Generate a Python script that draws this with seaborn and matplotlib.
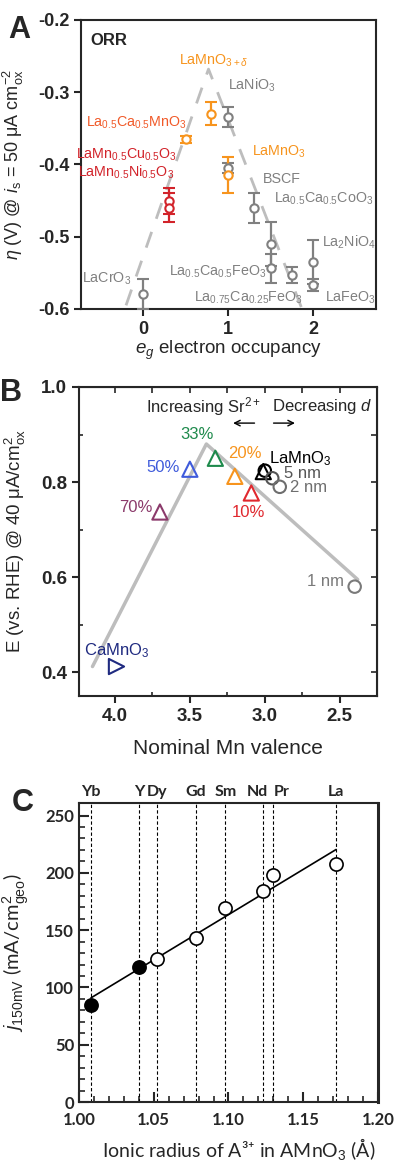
import numpy as np
import matplotlib
matplotlib.use("Agg")
import matplotlib.pyplot as plt
import seaborn as sns

# ---------------- Panel A: ORR overpotential vs e_g occupancy
gray_eg = [0.0, 1.0, 1.0, 1.3, 1.5, 1.5, 1.75, 2.0, 2.0]
gray_eta = [-0.579, -0.334, -0.405, -0.460, -0.510, -0.544, -0.553, -0.535, -0.567]
gray_err = [0.021, 0.014, 0.007, 0.021, 0.031, 0.020, 0.011, 0.030, 0.008]
orange_eg = [0.5, 0.8, 1.0]
orange_eta = [-0.365, -0.330, -0.415]
orange_err = [0.005, 0.016, 0.025]
red_eg = [0.3, 0.3]
red_eta = [-0.450, -0.460]
red_err = [0.018, 0.020]
volcano_a_x = [-0.2, 0.77, 1.87]
volcano_a_y = [-0.595, -0.268, -0.600]

# ---------------- Panel B: E vs nominal Mn valence
sr_labels = ["70%", "50%", "33%", "20%", "10%", ""]
sr_valence = [3.70, 3.50, 3.33, 3.20, 3.09, 3.01]
sr_E = [0.737, 0.827, 0.850, 0.812, 0.777, 0.822]
sr_colors = ["#8B3A6B", "#3F5BDB", "#1E8A4C", "#F7941D", "#E0282E", "black"]
camno3_valence = [3.99]
camno3_E = [0.412]
film_labels = ["LaMnO$_3$", "5 nm", "2 nm", "1 nm"]
film_valence = [3.00, 2.95, 2.90, 2.40]
film_E = [0.824, 0.808, 0.790, 0.580]
film_colors = ["black", "#555555", "#6E6E6E", "#7A7A7A"]
volcano_b_x = [4.15, 3.39, 2.38]
volcano_b_y = [0.412, 0.880, 0.595]

# ---------------- Panel C: j150mV vs ionic radius
elements = ["Yb", "Y", "Dy", "Gd", "Sm", "Nd", "Pr", "La"]
radius = [1.008, 1.040, 1.052, 1.078, 1.098, 1.123, 1.130, 1.172]
j150 = [85, 118, 125, 143, 169, 184, 198, 208]
filled = [True, True, False, False, False, False, False, False]

sns.set_style("ticks")
plt.rcParams['font.family'] = ['Liberation Sans', 'DejaVu Sans']
plt.rcParams['mathtext.fontset'] = 'custom'
plt.rcParams['mathtext.rm'] = 'Liberation Sans'
plt.rcParams['mathtext.it'] = 'Liberation Sans:italic'
plt.rcParams['mathtext.bf'] = 'Liberation Sans:bold'
plt.rcParams['axes.unicode_minus'] = False

GRAY = "#808080"
ORANGE = "#F7941D"
RED = "#D2232A"

fig = plt.figure(figsize=(3.97, 11.61), dpi=100)

# ======================= A
ax = fig.add_axes([0.204, 0.7339, 0.743, 0.2489])
sns.lineplot(x=volcano_a_x, y=volcano_a_y, ax=ax, color="#BDBDBD", lw=2,
             sort=False, estimator=None)
ax.lines[-1].set_dashes((6, 5))
for xs, ys, es, c in [(gray_eg, gray_eta, gray_err, GRAY),
                      (orange_eg, orange_eta, orange_err, ORANGE),
                      (red_eg, red_eta, red_err, RED)]:
    ax.errorbar(xs, ys, yerr=es, fmt='o', ms=6, mfc='white', mec=c, mew=1.5,
                ecolor=c, elinewidth=1.6, capsize=4, capthick=1.6, zorder=3)
ax.set_xlim(-0.73, 2.74)
ax.set_ylim(-0.6, -0.2)
ax.set_xticks([0, 1, 2])
ax.set_yticks([-0.2, -0.3, -0.4, -0.5, -0.6])
ax.set_yticklabels(["-0.2", "-0.3", "-0.4", "-0.5", "-0.6"])
ax.tick_params(direction='out', length=5, width=1.5, labelsize=13)
for lab in ax.get_xticklabels() + ax.get_yticklabels():
    lab.set_fontweight('bold')
for sp in ax.spines.values():
    sp.set_visible(True)
    sp.set_linewidth(1.5)
ax.set_xlabel("$e_g$ electron occupancy", fontsize=13.5)
ax.set_ylabel(r"$\eta$ (V) @ $i_\mathrm{s}$ = 50 μA cm$_\mathrm{ox}^{-2}$", fontsize=13)
ax.yaxis.set_label_coords(-0.185, 0.5)
ax.xaxis.set_label_coords(0.5, -0.105)

fs = 10.3
ax.text(-0.62, -0.228, "ORR", fontsize=12, fontweight='bold', va='center')
ax.text(0.83, -0.256, r"LaMnO$_{3+\delta}$", color=ORANGE, fontsize=fs, ha='center', va='center')
ax.text(1.0, -0.290, r"LaNiO$_3$", color=GRAY, fontsize=fs, va='center')
ax.text(0.52, -0.343, r"La$_{0.5}$Ca$_{0.5}$MnO$_3$", color="#F15A29", fontsize=fs, ha='right', va='center')
ax.text(0.40, -0.386, r"LaMn$_{0.5}$Cu$_{0.5}$O$_3$", color=RED, fontsize=fs, ha='right', va='center')
ax.text(0.37, -0.411, r"LaMn$_{0.5}$Ni$_{0.5}$O$_3$", color=RED, fontsize=fs, ha='right', va='center')
ax.text(1.28, -0.383, r"LaMnO$_3$", color=ORANGE, fontsize=fs, va='center')
ax.text(1.41, -0.420, "BSCF", color=GRAY, fontsize=fs, va='center')
ax.text(1.54, -0.448, r"La$_{0.5}$Ca$_{0.5}$CoO$_3$", color=GRAY, fontsize=fs, va='center')
ax.text(2.11, -0.508, r"La$_2$NiO$_4$", color=GRAY, fontsize=fs, va='center')
ax.text(1.46, -0.548, r"La$_{0.5}$Ca$_{0.5}$FeO$_3$", color=GRAY, fontsize=fs, ha='right', va='center')
ax.text(1.88, -0.585, r"La$_{0.75}$Ca$_{0.25}$FeO$_3$", color=GRAY, fontsize=fs, ha='right', va='center')
ax.text(2.14, -0.585, r"LaFeO$_3$", color=GRAY, fontsize=fs, va='center')
ax.text(-0.14, -0.558, r"LaCrO$_3$", color=GRAY, fontsize=fs, ha='right', va='center')

# ======================= B
ax = fig.add_axes([0.199, 0.4005, 0.751, 0.2662])
sns.lineplot(x=volcano_b_x, y=volcano_b_y, ax=ax, color="#BDBDBD", lw=2.5,
             sort=False, estimator=None)
for v, e, c in zip(sr_valence, sr_E, sr_colors):
    sns.scatterplot(x=[v], y=[e], ax=ax, marker='^', s=120, facecolors='none',
                    edgecolor=c, linewidth=1.5, zorder=3)
sns.scatterplot(x=camno3_valence, y=camno3_E, ax=ax, marker='>', s=120, facecolors='none',
                edgecolor="#1F2A80", linewidth=1.5, zorder=3)
for v, e, c in zip(film_valence, film_E, film_colors):
    sns.scatterplot(x=[v], y=[e], ax=ax, marker='o', s=80, facecolors='none',
                    edgecolor=c, linewidth=1.5, zorder=3)
ax.set_xlim(4.24, 2.25)
ax.set_ylim(0.35, 1.0)
ax.set_xticks([4.0, 3.5, 3.0, 2.5])
ax.set_xticks([3.75, 3.25, 2.75], minor=True)
ax.set_yticks([0.4, 0.6, 0.8, 1.0])
ax.set_yticks([0.5, 0.7, 0.9], minor=True)
ax.tick_params(which='major', direction='out', length=5, width=1.5, labelsize=13.5)
ax.tick_params(which='minor', direction='in', length=3, width=1.2)
for lab in ax.get_xticklabels() + ax.get_yticklabels():
    lab.set_fontweight('bold')
for sp in ax.spines.values():
    sp.set_visible(True)
    sp.set_linewidth(1.5)
top = ax.secondary_xaxis('top')
top.set_xticks([4.0, 3.75, 3.5, 3.25, 3.0, 2.75, 2.5])
top.tick_params(direction='in', length=4, width=1.2, labeltop=False)
right = ax.secondary_yaxis('right')
right.set_yticks([0.4, 0.5, 0.6, 0.7, 0.8, 0.9])
right.tick_params(direction='in', length=4, width=1.2, labelright=False)
ax.set_xlabel("Nominal Mn valence", fontsize=15)
ax.set_ylabel(r"E (vs. RHE) @ 40 μA/cm$^2_\mathrm{ox}$", fontsize=13.5)
ax.yaxis.set_label_coords(-0.17, 0.5)
ax.xaxis.set_label_coords(0.5, -0.14)

fs = 12
sr_text = [(3.75, 0.747, 'right'), (3.57, 0.830, 'right'), (3.45, 0.900, 'center'),
           (3.13, 0.860, 'center'), (3.11, 0.735, 'center')]
for lab, c, (tx, ty, ha) in zip(sr_labels, sr_colors, sr_text):
    ax.text(tx, ty, lab, color=c, fontsize=fs, ha=ha, va='center')
film_text = [(2.97, 0.849), (2.87, 0.817), (2.83, 0.788), (2.47, 0.590)]
for i, (lab, c, (tx, ty)) in enumerate(zip(film_labels, film_colors, film_text)):
    ax.text(tx, ty, lab, color=c, fontsize=fs, ha='right' if i == 3 else 'left', va='center')
ax.text(3.99, 0.445, r"CaMnO$_3$", color="#1F2A80", fontsize=fs, ha='center', va='center')
ax.text(3.41, 0.958, r"Increasing Sr$^{2+}$", fontsize=fs, ha='center', va='center')
ax.text(2.62, 0.958, r"Decreasing $d$", fontsize=fs, ha='center', va='center')
ax.annotate("", xy=(3.23, 0.924), xytext=(3.05, 0.924),
            arrowprops=dict(arrowstyle='->', lw=1, color='black'))
ax.annotate("", xy=(2.78, 0.924), xytext=(2.96, 0.924),
            arrowprops=dict(arrowstyle='->', lw=1, color='black'))

# ======================= C
ax = fig.add_axes([0.199, 0.0508, 0.753, 0.2576])
cfont = ['Lato', 'DejaVu Sans']
for r in radius:
    ax.axvline(r, color='black', lw=0.8, ls=(0, (3, 2)), zorder=1)
sns.regplot(x=radius, y=j150, ax=ax, scatter=False, ci=None, truncate=True,
            color='black', line_kws=dict(lw=1.2, zorder=2))
rad = np.array(radius)
jj = np.array(j150)
msk = np.array(filled)
sns.scatterplot(x=rad[msk], y=jj[msk], ax=ax, s=90, color='black', edgecolor='black',
                linewidth=1.2, zorder=3)
sns.scatterplot(x=rad[~msk], y=jj[~msk], ax=ax, s=90, facecolors='white', edgecolor='black',
                linewidth=1.2, zorder=3)
ax.set_xlim(1.0, 1.2)
ax.set_ylim(0, 261)
ax.set_xticks([1.00, 1.05, 1.10, 1.15, 1.20])
ax.set_xticks(np.arange(1.01, 1.2, 0.01), minor=True)
ax.set_yticks([0, 50, 100, 150, 200, 250])
ax.set_yticks(np.arange(10, 260, 10), minor=True)
ax.set_xticklabels(["1.00", "1.05", "1.10", "1.15", "1.20"])
ax.tick_params(which='major', direction='in', length=7, width=1.5, labelsize=12)
ax.tick_params(axis='x', which='major', pad=7)
ax.tick_params(which='minor', direction='in', length=4, width=1.2)
for lab in ax.get_xticklabels() + ax.get_yticklabels():
    lab.set_fontweight('bold')
    lab.set_family(cfont)
for sp in ax.spines.values():
    sp.set_visible(True)
    sp.set_linewidth(1.5)
ax.spines['right'].set_linewidth(2.2)
el_offsets = [0, 0, 0, 0, 0, -4, 6, 0]
for el, r, off in zip(elements, radius, el_offsets):
    ax.annotate(el, xy=(r, 1.0), xycoords=('data', 'axes fraction'),
                xytext=(off, 3), textcoords='offset points', ha='center', va='bottom',
                fontsize=11.5, fontweight='bold', family=cfont)
ax.set_xlabel("Ionic radius of A³⁺ in AMnO$_3$ (Å)", fontsize=14, family=cfont)
ax.set_ylabel(r"$j_\mathrm{150mV}$ (mA/cm$^2_\mathrm{geo}$)", fontsize=14.5, family=cfont)
ax.yaxis.set_label_coords(-0.16, 0.5)
ax.xaxis.set_label_coords(0.535, -0.115)

fig.text(0.02, 1 - 30 / 1161, "A", fontsize=22, fontweight='bold', va='center')
fig.text(0.0, 1 - 393 / 1161, "B", fontsize=22, fontweight='bold', va='center')
fig.text(0.03, 1 - 803 / 1161, "C", fontsize=22, fontweight='bold', va='center')

fig.savefig("out.png", dpi=100)
